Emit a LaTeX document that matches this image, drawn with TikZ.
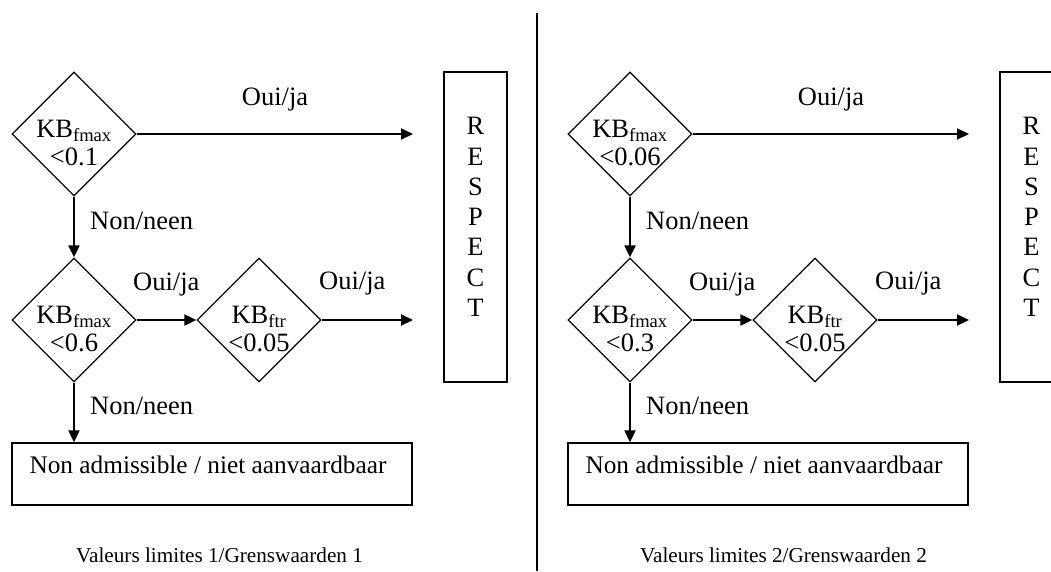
\documentclass[tikz,border=0pt]{standalone}
\usepackage{fontspec}
\setmainfont{Liberation Serif}
\usetikzlibrary{shapes.geometric,arrows.meta}
\newcommand\halfchart[6]{%
 \begin{scope}[xshift=#2pt]
  \node[dia, label={[dtxt,yshift=-9pt]center:{KB\textsubscript{fmax}\\<#3}}] (#1a) at (74,134) {};
  \node[dia, label={[dtxt,yshift=-9pt]center:{KB\textsubscript{fmax}\\<#4}}] (#1b) at (74,320) {};
  \node[dia, label={[dtxt,yshift=-9pt]center:{KB\textsubscript{ftr}\\<0.05}}] (#1c) at (259,320) {};
  \node[box, minimum width=63pt, minimum height=310pt,
        label={[rtxt,yshift=10pt]center:{R\\E\\S\\P\\E\\C\\T}}] (#1r) at (475.5,227) {};
  \node[box, minimum width=400pt, minimum height=62pt,
        label={[btxt,anchor=base west,xshift=18pt,yshift=1pt]west:{Non admissible / niet aanvaardbaar}}] (#1n) at (212,474) {};
  \coordinate (#1e1) at (413,134);
  \coordinate (#1e2) at (413,320);
  \draw[arr] (#1a.east) -- (#1e1);
  \draw[arr] (#1a.south) -- (#1b.north);
  \draw[arr] (#1b.east) -- (#1c.west);
  \draw[arr] (#1c.east) -- (#1e2);
  \draw[arr] (#1b.south) -- (#1n.north -| #1b.south);
  \node[txt,anchor=base] (#1l1) at (275,105) {Oui/ja};
  \node[txt,anchor=base west] (#1l2) at (90,229) {Non/neen};
  \node[txt,anchor=base west] (#1l3) at (133,290) {Oui/ja};
  \node[txt,anchor=base west] (#1l4) at (319,289) {Oui/ja};
  \node[txt,anchor=base west] (#1l5) at (90,414) {Non/neen};
  \node[ftxt,anchor=base west] (#1f) at (#5,562) {Valeurs limites #6/Grenswaarden #6};
 \end{scope}}
\begin{document}
\begin{tikzpicture}[x=1pt,y=-1pt,
  dia/.style={draw, diamond, minimum width=124pt, minimum height=124pt, inner sep=0pt, line width=1.3pt},
  box/.style={draw, rectangle, inner sep=0pt, line width=1.3pt},
  arr/.style={line width=2pt, -{Triangle[length=12pt,width=11pt]}},
  txt/.style={inner sep=0pt, font=\fontsize{26.5}{28}\selectfont},
  btxt/.style={inner sep=0pt, font=\fontsize{25.3}{28}\selectfont},
  ftxt/.style={inner sep=0pt, font=\fontsize{21.2}{24}\selectfont},
  dtxt/.style={txt, align=center},
  rtxt/.style={inner sep=0pt, align=center, font=\fontsize{26.5}{30.3}\selectfont}]
\useasboundingbox (0,0) rectangle (1051,571);
\clip (0,0) rectangle (1051,571);
\fill[white] (0,0) rectangle (1051,571);
\halfchart{L}{0}{0.1}{0.6}{76}{1}
\halfchart{R}{556}{0.06}{0.3}{84}{2}
\draw[line width=1.6pt] (537,13) -- (537,571);
\end{tikzpicture}
\end{document}
